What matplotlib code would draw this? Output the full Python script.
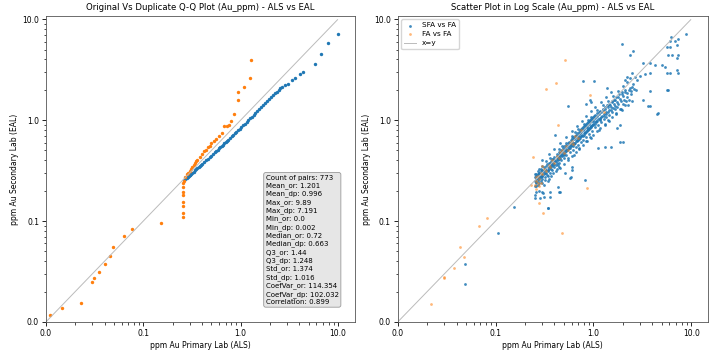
import numpy as np
import matplotlib
matplotlib.use("Agg")
import matplotlib.pyplot as plt
from matplotlib.ticker import FixedLocator, FuncFormatter, NullFormatter, LogLocator

# --- Q-Q data (sorted quantiles, ppm Au) ---
qq_sfa_or = [0.263, 0.27, 0.275, 0.28, 0.285, 0.29, 0.295, 0.30, 0.305, 0.31, 0.32, 0.33,
             0.34, 0.35, 0.36, 0.37, 0.38, 0.39, 0.40, 0.42, 0.44, 0.46, 0.48, 0.50, 0.52,
             0.54, 0.56, 0.58, 0.60, 0.62, 0.64, 0.66, 0.68, 0.70, 0.72, 0.75, 0.78, 0.81,
             0.84, 0.87, 0.90, 0.94, 0.98, 1.02, 1.06, 1.10, 1.15, 1.20, 1.25, 1.30, 1.36,
             1.42, 1.48, 1.55, 1.62, 1.70, 1.78, 1.86, 1.95, 2.05, 2.15, 2.24, 2.35, 2.45,
             2.55, 2.63, 2.85, 3.05, 3.34, 3.6, 4.07, 4.4, 5.8, 6.7, 7.9, 9.89]
qq_sfa_dp = [0.255, 0.261, 0.265, 0.269, 0.273, 0.277, 0.281, 0.285, 0.289, 0.293, 0.301, 0.309,
             0.317, 0.326, 0.334, 0.342, 0.350, 0.358, 0.366, 0.383, 0.399, 0.415, 0.430, 0.445,
             0.462, 0.478, 0.494, 0.510, 0.526, 0.542, 0.557, 0.573, 0.587, 0.602, 0.618, 0.642,
             0.666, 0.690, 0.714, 0.738, 0.762, 0.793, 0.825, 0.857, 0.890, 0.922, 0.963, 1.004,
             1.045, 1.085, 1.133, 1.182, 1.230, 1.287, 1.344, 1.408, 1.472, 1.536, 1.606, 1.686,
             1.766, 1.84, 1.92, 2.0, 2.07, 2.14, 2.22, 2.3, 2.49, 2.62, 2.85, 3.03, 3.56, 4.5,
             5.8, 7.19]

qq_fa_or = [0.011, 0.0147, 0.0229, 0.0297, 0.0308, 0.0348, 0.0407, 0.0452, 0.049, 0.063, 0.0769,
            0.151, 0.253, 0.253, 0.253, 0.253, 0.253, 0.253, 0.254, 0.255, 0.26, 0.27, 0.28, 0.29,
            0.30, 0.31, 0.32, 0.33, 0.34, 0.35, 0.36, 0.38, 0.40, 0.42, 0.44, 0.46, 0.48, 0.50,
            0.53, 0.56, 0.60, 0.64, 0.67, 0.72, 0.76, 0.80, 0.86, 0.94, 0.95, 1.08, 1.25, 1.27]
qq_fa_dp = [0.0117, 0.0137, 0.0155, 0.0251, 0.0275, 0.031, 0.0372, 0.0454, 0.0548, 0.071, 0.0828,
            0.095, 0.110, 0.121, 0.142, 0.155, 0.180, 0.195, 0.216, 0.237, 0.25, 0.27, 0.29, 0.30,
            0.315, 0.33, 0.345, 0.36, 0.375, 0.39, 0.40, 0.43, 0.46, 0.49, 0.51, 0.54, 0.56, 0.59,
            0.62, 0.65, 0.70, 0.75, 0.87, 0.87, 0.90, 0.98, 1.14, 1.58, 1.9, 2.11, 2.59, 3.9]

# --- scatter data: SFA vs FA pairs (original, duplicate) ---
sfa_or = [
    0.25, 0.25, 0.26, 0.26, 0.26, 0.27, 0.27, 0.27, 0.28, 0.28, 0.28, 0.29, 0.29, 0.29, 0.30, 0.30,
    0.30, 0.25, 0.26, 0.27, 0.28, 0.29, 0.25, 0.27, 0.28, 0.30, 0.30,
    0.31, 0.31, 0.32, 0.32, 0.33, 0.33, 0.34, 0.34, 0.35, 0.35, 0.36, 0.36, 0.37, 0.37, 0.38, 0.38,
    0.39, 0.39, 0.40, 0.40, 0.32, 0.34, 0.36, 0.38, 0.33, 0.36, 0.40, 0.35, 0.39,
    0.41, 0.42, 0.42, 0.43, 0.44, 0.44, 0.45, 0.46, 0.46, 0.47, 0.48, 0.48, 0.49, 0.50, 0.50, 0.51,
    0.52, 0.53, 0.54, 0.55, 0.43, 0.45, 0.47, 0.50, 0.53, 0.44, 0.48, 0.52, 0.42, 0.55,
    0.56, 0.57, 0.58, 0.59, 0.60, 0.61, 0.62, 0.63, 0.64, 0.65, 0.66, 0.67, 0.68, 0.69, 0.70, 0.71,
    0.72, 0.73, 0.74, 0.75, 0.58, 0.62, 0.66, 0.70, 0.74, 0.60, 0.65, 0.70, 0.63, 0.72,
    0.77, 0.78, 0.80, 0.81, 0.83, 0.84, 0.86, 0.87, 0.89, 0.90, 0.92, 0.93, 0.95, 0.96, 0.98, 1.00,
    0.78, 0.84, 0.90, 0.96, 0.80, 0.88, 0.95, 0.86, 0.94,
    1.02, 1.04, 1.06, 1.09, 1.11, 1.14, 1.17, 1.20, 1.23, 1.26, 1.29, 1.32, 1.36, 1.40, 1.44, 1.48,
    1.05, 1.12, 1.20, 1.28, 1.36, 1.44, 1.10, 1.25, 1.40, 1.15, 1.30, 1.45,
    1.52, 1.56, 1.62, 1.68, 1.74, 1.80, 1.88, 1.95, 2.02, 2.10, 2.20, 2.30, 2.40, 2.50, 2.60, 1.55,
    1.65, 1.75, 1.85, 2.00, 2.15, 2.30, 1.60, 1.80, 2.00, 2.20, 1.70, 1.95, 2.25, 2.50,
    0.0485, 0.0485, 0.106, 0.154, 0.346, 0.252, 0.262, 0.296, 0.307, 0.315, 0.36, 0.36, 0.296,
    0.262, 0.32, 0.455, 0.438, 0.512, 0.576, 0.6, 0.455, 0.421, 0.36, 0.333, 0.269, 0.25, 0.282,
    0.343, 0.45, 0.594, 0.554, 0.405, 0.887, 1.12, 1.31, 1.50, 1.87, 2.02, 1.73, 1.87, 1.17, 0.6,
    0.82, 0.92, 0.85, 0.95, 1.37, 3.8, 1.42,
    1.95, 2.56, 2.37, 6.18, 8.87, 7.4, 6.84, 6.1, 7.22, 5.62, 6.08, 6.3, 5.85, 7.4, 7.1, 5.4, 5.0,
    7.1, 7.4, 5.6, 6.1, 5.7, 4.44, 3.65, 3.8, 3.24, 3.24, 3.8, 4.26, 3.37, 3.8, 3.0, 2.67, 2.37,
    2.1, 2.46, 2.19, 0.79, 1.01, 5.8, 4.58,
    0.26, 0.27, 0.275, 0.285, 0.29, 0.295, 0.305, 0.315, 0.325, 0.335,
    0.345, 0.355, 0.365, 0.375, 0.385, 0.395, 0.405, 0.415, 0.425, 0.435,
    0.445, 0.455, 0.465, 0.475, 0.485, 0.495, 0.505, 0.515, 0.525, 0.535,
    0.545, 0.555, 0.565, 0.575, 0.585, 0.595, 0.605, 0.615, 0.625, 0.635,
    0.645, 0.655, 0.665, 0.675, 0.685, 0.695, 0.705, 0.715, 0.725, 0.735,
    0.745, 0.755, 0.765, 0.775, 0.785, 0.795, 0.805, 0.815, 0.825, 0.835,
    0.845, 0.855, 0.865, 0.875, 0.885, 0.895, 0.905, 0.915, 0.925, 0.935,
    0.945, 0.955, 0.965, 0.975, 0.985, 0.995, 1.01, 1.03, 1.05, 1.07,
    1.08, 1.10, 1.13, 1.16, 1.18, 1.21, 1.24, 1.27, 1.31, 1.34,
    1.38, 1.42, 1.46, 1.50, 1.54, 1.58, 1.63, 1.67, 1.72, 1.77,
    1.83, 1.90, 1.97, 2.05, 2.12, 2.22, 2.35, 2.45, 2.55, 2.70,
    2.80, 0.28, 0.31, 0.34, 0.37, 0.41, 0.45, 0.50, 0.55, 0.60,
    0.66, 0.72, 0.78, 0.85, 0.92, 1.00, 1.08, 1.18, 1.30, 1.42,
    1.56, 1.72, 1.90, 2.10, 0.30, 0.35, 0.40, 0.46, 0.52, 0.60,
    0.68, 0.76, 0.85, 0.95, 1.05, 1.20, 1.35, 1.50,
]
sfa_dp = [
    0.25, 0.27, 0.24, 0.26, 0.28, 0.25, 0.27, 0.29, 0.26, 0.28, 0.30, 0.27, 0.29, 0.31, 0.28, 0.30,
    0.32, 0.22, 0.22, 0.23, 0.24, 0.25, 0.29, 0.31, 0.33, 0.26, 0.35,
    0.29, 0.31, 0.30, 0.33, 0.32, 0.35, 0.31, 0.34, 0.33, 0.36, 0.34, 0.38, 0.36, 0.39, 0.35, 0.37,
    0.38, 0.41, 0.37, 0.40, 0.27, 0.28, 0.30, 0.32, 0.39, 0.42, 0.34, 0.26, 0.30,
    0.39, 0.41, 0.44, 0.42, 0.41, 0.45, 0.43, 0.47, 0.44, 0.46, 0.45, 0.49, 0.47, 0.50, 0.46, 0.52,
    0.49, 0.54, 0.50, 0.56, 0.36, 0.38, 0.40, 0.42, 0.45, 0.52, 0.56, 0.60, 0.33, 0.42,
    0.53, 0.58, 0.55, 0.60, 0.57, 0.63, 0.59, 0.65, 0.60, 0.66, 0.62, 0.69, 0.64, 0.70, 0.66, 0.73,
    0.68, 0.75, 0.70, 0.77, 0.48, 0.51, 0.54, 0.57, 0.61, 0.70, 0.76, 0.82, 0.45, 0.52,
    0.72, 0.79, 0.74, 0.82, 0.77, 0.85, 0.80, 0.88, 0.83, 0.92, 0.86, 0.95, 0.88, 0.98, 0.91, 1.01,
    0.64, 0.68, 0.73, 0.78, 0.92, 1.00, 1.08, 0.62, 0.66,
    0.95, 1.06, 0.98, 1.10, 1.02, 1.15, 1.06, 1.20, 1.10, 1.25, 1.16, 1.30, 1.21, 1.36, 1.27, 1.42,
    0.85, 0.90, 0.96, 1.02, 1.08, 1.12, 1.25, 1.40, 1.55, 0.80, 0.90, 0.98,
    1.35, 1.50, 1.45, 1.60, 1.52, 1.70, 1.62, 1.80, 1.72, 1.90, 1.85, 2.00, 1.95, 2.15, 2.05, 1.20,
    1.28, 1.35, 1.30, 1.45, 1.55, 1.60, 1.75, 1.95, 2.20, 2.40, 1.15, 1.25, 1.40, 1.55,
    0.0372, 0.0239, 0.0756, 0.137, 0.136, 0.170, 0.195, 0.195, 0.188, 0.174, 0.174, 0.195, 0.236,
    0.245, 0.255, 0.195, 0.219, 0.297, 0.265, 0.345, 0.332, 0.372, 0.345, 0.285, 0.285, 0.181, 0.168,
    0.136, 0.195, 0.275, 1.38, 0.71, 0.808, 0.525, 0.545, 0.545, 0.61, 0.61, 0.826, 0.89, 1.0, 0.32,
    0.255, 1.58, 1.45, 1.50, 2.06, 1.95, 1.41,
    5.65, 4.86, 4.4, 6.68, 7.1, 6.3, 6.1, 6.1, 5.53, 5.31, 5.31, 4.4, 4.4, 4.4, 4.08, 3.37, 3.5,
    3.13, 2.9, 2.9, 2.9, 1.98, 1.16, 1.39, 1.39, 1.58, 3.64, 3.64, 3.5, 2.85, 2.9, 2.73, 2.65, 2.59,
    2.49, 2.9, 2.69, 2.43, 2.45, 2.01, 1.18,
    0.29, 0.26, 0.30, 0.27, 0.33, 0.28, 0.31, 0.34, 0.30, 0.37,
    0.32, 0.38, 0.33, 0.41, 0.36, 0.43, 0.39, 0.36, 0.46, 0.40,
    0.48, 0.42, 0.51, 0.44, 0.53, 0.45, 0.55, 0.48, 0.57, 0.50,
    0.59, 0.52, 0.61, 0.53, 0.64, 0.55, 0.66, 0.56, 0.68, 0.58,
    0.70, 0.60, 0.72, 0.62, 0.74, 0.63, 0.76, 0.65, 0.79, 0.67,
    0.81, 0.69, 0.83, 0.70, 0.85, 0.72, 0.87, 0.74, 0.89, 0.76,
    0.92, 0.78, 0.94, 0.79, 0.96, 0.81, 0.99, 0.83, 1.01, 0.85,
    1.03, 0.87, 1.05, 0.89, 1.07, 0.90, 1.10, 0.92, 1.13, 0.96,
    1.17, 0.99, 1.21, 1.03, 1.24, 1.07, 1.30, 1.11, 1.35, 1.15,
    1.40, 1.20, 1.46, 1.25, 1.55, 1.32, 1.60, 1.38, 1.70, 1.45,
    1.80, 1.55, 1.90, 1.60, 2.00, 1.70, 2.10, 1.80, 2.30, 2.00,
    2.50, 0.20, 0.23, 0.25, 0.28, 0.31, 0.34, 0.37, 0.40, 0.44,
    0.48, 0.53, 0.57, 0.62, 0.68, 0.72, 0.78, 0.84, 0.92, 1.00,
    1.08, 1.18, 1.30, 1.42, 0.40, 0.46, 0.52, 0.60, 0.68, 0.78,
    0.88, 0.98, 1.10, 1.22, 1.35, 1.50, 1.70, 1.90,
]

# --- scatter data: FA vs FA pairs ---
fa_or = [0.0219, 0.0296, 0.0300, 0.0374, 0.0481, 0.0434, 0.0675, 0.082, 0.308, 0.48, 0.853, 0.279,
         0.243, 0.438, 0.92, 0.51, 0.33, 0.41, 0.289, 0.231,
         0.26, 0.27, 0.28, 0.29, 0.30, 0.31, 0.26, 0.27, 0.33, 0.35, 0.36, 0.38, 0.40, 0.42, 0.44,
         0.46, 0.48, 0.50, 0.52, 0.55, 0.58, 0.60, 0.62, 0.65, 0.70, 0.75, 0.28, 0.25, 0.26, 0.30, 1.27]
fa_dp = [0.0151, 0.0275, 0.0280, 0.034, 0.0443, 0.0557, 0.0892, 0.108, 0.119, 0.0766, 0.211, 0.150,
         0.434, 0.89, 1.77, 3.93, 2.03, 2.34, 0.236, 0.227,
         0.25, 0.28, 0.26, 0.30, 0.29, 0.33, 0.27, 0.24, 0.31, 0.36, 0.34, 0.40, 0.38, 0.44, 0.42,
         0.48, 0.50, 0.47, 0.55, 0.50, 0.60, 0.62, 0.58, 0.70, 0.66, 0.80, 0.22, 0.23, 0.21, 0.35, 1.20]

stats_lines = [
    "Count of pairs: 773", "Mean_or: 1.201", "Mean_dp: 0.996", "Max_or: 9.89", "Max_dp: 7.191",
    "Min_or: 0.0", "Min_dp: 0.002", "Median_or: 0.72", "Median_dp: 0.663", "Q3_or: 1.44",
    "Q3_dp: 1.248", "Std_or: 1.374", "Std_dp: 1.016", "CoefVar_or: 114.354",
    "CoefVar_dp: 102.032", "Correlation: 0.899",
]

BLUE = "#1f77b4"
ORANGE = "#ff7f0e"
FS = 5.5
LIM_X = (0.01, 9.89 * 1.5)
LIM_Y = (0.01, 7.191 * 1.5)


def style_log_axes(ax, title):
    ax.set_xscale("log")
    ax.set_yscale("log")
    ax.set_xlim(*LIM_X)
    ax.set_ylim(*LIM_Y)
    fmt = FuncFormatter(lambda v, p: "%.1f" % v)
    for axis in (ax.xaxis, ax.yaxis):
        axis.set_major_locator(FixedLocator([0.01, 0.1, 1, 10]))
        axis.set_major_formatter(fmt)
        axis.set_minor_locator(LogLocator(base=10, subs=np.arange(2, 10)))
        axis.set_minor_formatter(NullFormatter())
    ax.tick_params(which="major", length=3, width=0.6, labelsize=FS, pad=2)
    ax.tick_params(which="minor", length=1.8, width=0.5)
    for s in ax.spines.values():
        s.set_linewidth(0.6)
        s.set_color("#555555")
    ax.set_title(title, fontsize=6.1, pad=4)
    ax.set_xlabel("ppm Au Primary Lab (ALS)", fontsize=FS, labelpad=2)
    ax.set_ylabel("ppm Au Secondary Lab (EAL)", fontsize=FS, labelpad=2)


fig = plt.figure(figsize=(7.18, 3.53), dpi=100)
ax1 = fig.add_axes([0.064, 0.088, 0.430, 0.867])
ax2 = fig.add_axes([0.554, 0.088, 0.432, 0.867])

# left: Q-Q plot
ax1.scatter(qq_sfa_or, qq_sfa_dp, s=6, color=BLUE, linewidths=0)
ax1.scatter(qq_fa_or, qq_fa_dp, s=6, color=ORANGE, linewidths=0)
ax1.plot([0.01, 9.89], [0.01, 9.89], color="#bbbbbb", linewidth=0.7)
style_log_axes(ax1, "Original Vs Duplicate Q-Q Plot (Au_ppm) - ALS vs EAL")
ax1.text(0.712, 0.055, "\n".join(stats_lines), transform=ax1.transAxes, fontsize=5.0,
         linespacing=1.32, va="bottom", ha="left",
         bbox=dict(boxstyle="round,pad=0.3", facecolor="#e6e6e6", edgecolor="#999999",
                   linewidth=0.6))

# right: scatter in log scale
ax2.scatter(sfa_or, sfa_dp, s=4, color=BLUE, alpha=0.85, linewidths=0, label="SFA vs FA")
ax2.scatter(fa_or, fa_dp, s=4, color=ORANGE, alpha=0.55, linewidths=0, label="FA vs FA")
ax2.plot([0.01, 9.89], [0.01, 9.89], color="#bbbbbb", linewidth=0.7, label="x=y")
style_log_axes(ax2, "Scatter Plot in Log Scale (Au_ppm) - ALS vs EAL")
ax2.legend(loc="upper left", fontsize=5.2, markerscale=1.0, handlelength=1.6,
           borderpad=0.4, labelspacing=0.4, framealpha=0.8)

fig.savefig("out.png", dpi=100)
